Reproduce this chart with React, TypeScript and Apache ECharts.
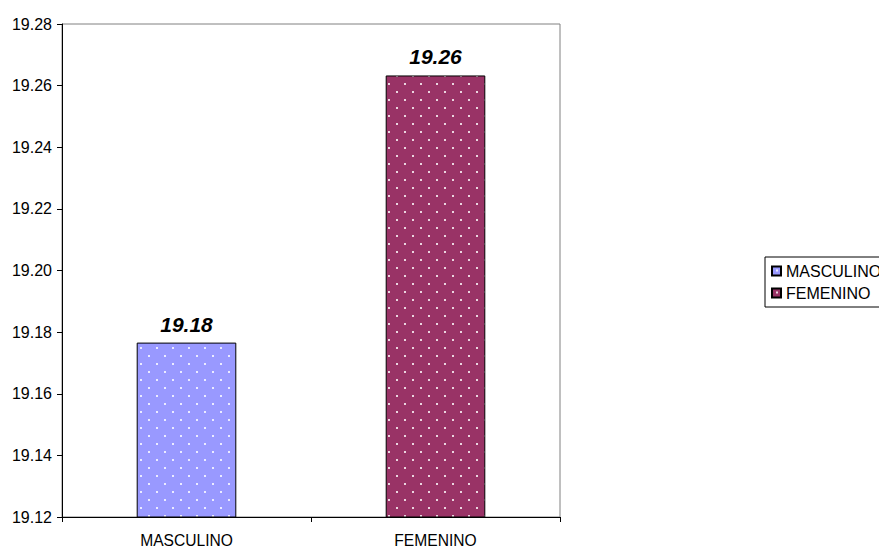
import React, { useEffect, useRef } from 'react';
import * as echarts from 'echarts';

const categories = ['MASCULINO', 'FEMENINO'];
const values = [19.1766, 19.2633];
const barColors = ['#9999FF', '#993366'];
const yMin = 19.12;
const yMax = 19.28;
const yStep = 0.02;

function makePattern(base: string) {
  const c = document.createElement('canvas');
  c.width = 16;
  c.height = 16;
  const ctx = c.getContext('2d')!;
  ctx.fillStyle = base;
  ctx.fillRect(0, 0, 16, 16);
  ctx.fillStyle = 'rgba(255,255,255,0.8)';
  ctx.fillRect(4, 3, 2, 2);
  ctx.fillRect(12, 11, 2, 2);
  return c;
}

const W = 960;

export default function App() {
  const ref = useRef<HTMLDivElement>(null);
  useEffect(() => {
    if (!ref.current) return;
    const chart = echarts.init(ref.current, undefined, { renderer: 'svg' });
    const font = 'Arial, "Liberation Sans", sans-serif';
    const series = categories.map((name, i) => ({
      name,
      type: 'bar',
      stack: 'all',
      barWidth: '40%',
      data: categories.map((_, j) => (j === i ? values[i] : '-')),
      itemStyle: {
        color: { image: makePattern(barColors[i]), repeat: 'repeat' },
        borderColor: '#000',
        borderWidth: 1,
      },
      label: {
        show: true,
        position: 'top',
        distance: 8,
        formatter: (p: any) => Number(p.value).toFixed(2),
        fontFamily: font,
        fontSize: 21,
        fontWeight: 'bold',
        fontStyle: 'italic',
        color: '#000',
      },
    }));
    chart.setOption({
      animation: false,
      backgroundColor: '#fff',
      grid: {
        left: 62,
        right: W - 560,
        top: 24,
        bottom: 30,
        show: true,
        borderColor: '#808080',
        borderWidth: 1,
        backgroundColor: 'transparent',
      },
      legend: {
        orient: 'vertical',
        left: 765,
        top: 257,
        padding: [6, 6, 6, 6],
        itemWidth: 9,
        itemHeight: 9,
        itemGap: 6,
        borderColor: '#000',
        borderWidth: 1,
        icon: 'rect',
        textStyle: { fontFamily: font, fontSize: 16, color: '#000', lineHeight: 16 },
        data: categories,
      },
      xAxis: {
        type: 'category',
        data: categories,
        axisLine: { lineStyle: { color: '#000', width: 1 } },
        axisTick: { show: true, length: 5, lineStyle: { color: '#000' } },
        axisLabel: { fontFamily: font, fontSize: 15.6, color: '#000', margin: 15 },
        splitLine: { show: false },
      },
      yAxis: {
        type: 'value',
        min: yMin,
        max: yMax,
        interval: yStep,
        axisLine: { show: true, lineStyle: { color: '#000', width: 1 } },
        axisTick: { show: true, length: 5, lineStyle: { color: '#000' } },
        axisLabel: {
          fontFamily: font,
          fontSize: 16,
          color: '#000',
          margin: 10,
          formatter: (v: number) => v.toFixed(2),
        },
        splitLine: { show: false },
      },
      series,
    });
    return () => chart.dispose();
  }, []);
  return (
    <div
      ref={ref}
      style={{ position: 'fixed', left: 0, top: 0, width: W, height: 548 }}
    />
  );
}
